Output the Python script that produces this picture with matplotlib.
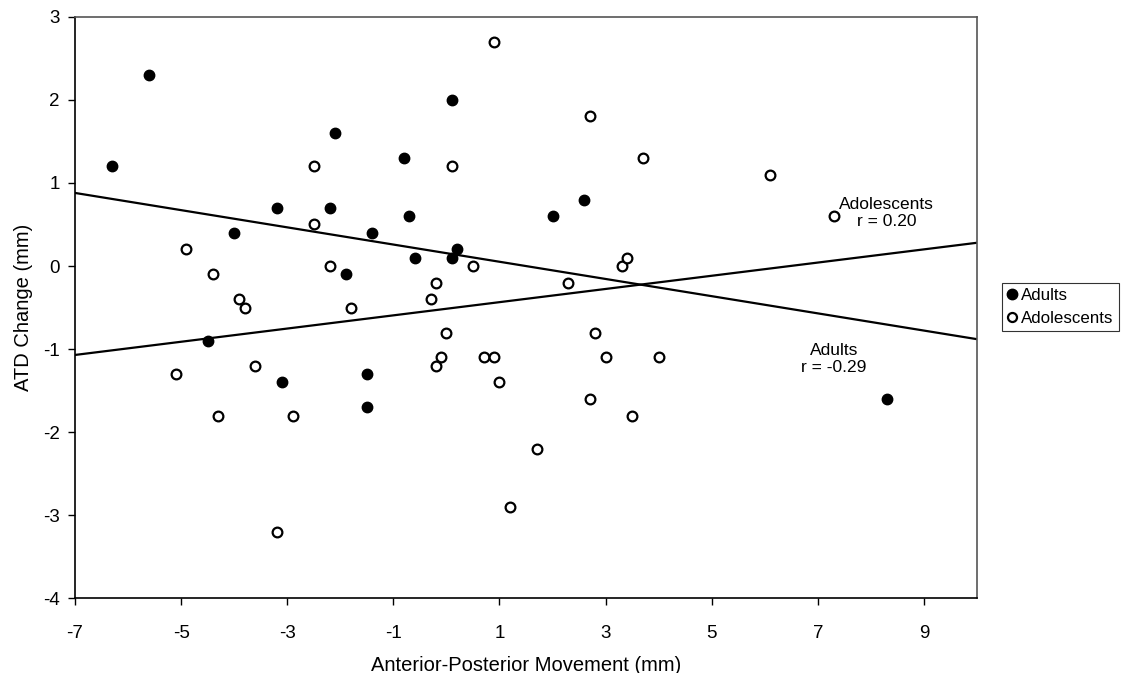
import numpy as np
import matplotlib
matplotlib.use("Agg")
import matplotlib.pyplot as plt
from matplotlib.lines import Line2D

plt.rcParams['font.family'] = ['Liberation Sans', 'DejaVu Sans']
plt.rcParams['axes.unicode_minus'] = False

# adults (filled)
adult_x = [-6.3, -5.6, -4.5, -4.0, -3.2, -3.1, -2.2, -2.1, -1.9, -1.5, -1.5,
           -1.4, -0.8, -0.7, -0.6, 0.1, 0.1, 0.2, 2.0, 2.6, 8.3]
adult_y = [1.2, 2.3, -0.9, 0.4, 0.7, -1.4, 0.7, 1.6, -0.1, -1.3, -1.7,
           0.4, 1.3, 0.6, 0.1, 2.0, 0.1, 0.2, 0.6, 0.8, -1.6]

# adolescents (open)
adol_x = [-5.1, -4.9, -4.4, -4.3, -3.9, -3.8, -3.6, -3.2, -2.9, -2.5, -2.5,
          -2.2, -1.8, -0.3, -0.2, -0.2, -0.1, 0.0, 0.1, 0.5, 0.7, 0.9, 0.9,
          1.0, 1.2, 1.7, 2.3, 2.7, 2.7, 2.8, 3.0, 3.3, 3.4, 3.5, 3.7, 4.0,
          6.1, 7.3]
adol_y = [-1.3, 0.2, -0.1, -1.8, -0.4, -0.5, -1.2, -3.2, -1.8, 1.2, 0.5,
          0.0, -0.5, -0.4, -0.2, -1.2, -1.1, -0.8, 1.2, 0.0, -1.1, 2.7, -1.1,
          -1.4, -2.9, -2.2, -0.2, 1.8, -1.6, -0.8, -1.1, 0.0, 0.1, -1.8, 1.3, -1.1,
          1.1, 0.6]

# trend lines (slope, intercept)
adult_fit = (-0.1035, 0.155)
adol_fit = (0.0794, -0.514)

xticks = [-7, -5, -3, -1, 1, 3, 5, 7, 9]
yticks = [-4, -3, -2, -1, 0, 1, 2, 3]

fig = plt.figure(figsize=(11.23, 6.73), dpi=100)
ax = fig.add_axes([0.0668, 0.1107, 0.8032, 0.8645])

xl = np.array([-7, 10])
ax.plot(xl, adult_fit[0] * xl + adult_fit[1], color='black', lw=1.6, zorder=2)
ax.plot(xl, adol_fit[0] * xl + adol_fit[1], color='black', lw=1.6, zorder=2)

ax.plot(adult_x, adult_y, 'o', ms=7.5, mfc='black', mec='black', zorder=3)
ax.plot(adol_x, adol_y, 'o', ms=7, mfc='white', mec='black', mew=1.6, zorder=3)

ax.text(8.3, 0.64, "Adolescents\nr = 0.20", ha='center', va='center',
        fontsize=12.5, linespacing=1.2)
ax.text(7.3, -1.12, "Adults\nr = -0.29", ha='center', va='center',
        fontsize=12.5, linespacing=1.2)

ax.set_xlim(-7, 10)
ax.set_ylim(-4, 3)
ax.set_xticks(xticks)
ax.set_yticks(yticks)
ax.tick_params(axis='both', direction='out', length=5, width=1, labelsize=13.5)
ax.tick_params(axis='x', pad=14)
ax.tick_params(axis='y', pad=6)
for s in ax.spines.values():
    s.set_linewidth(1.2)
ax.spines['top'].set_color('#555555')
ax.spines['right'].set_color('#555555')

ax.set_xlabel("Anterior-Posterior Movement (mm)", fontsize=14.5, labelpad=10)
ax.set_ylabel("ATD Change (mm)", fontsize=14.5, labelpad=7)

handles = [
    Line2D([], [], ls='none', marker='o', ms=7.5, mfc='black', mec='black'),
    Line2D([], [], ls='none', marker='o', ms=6.5, mfc='white', mec='black', mew=1.6),
]
leg = fig.legend(handles, ["Adults", "Adolescents"], loc='center left',
                 bbox_to_anchor=(0.892, 0.544), fontsize=12.2, frameon=True,
                 fancybox=False, edgecolor='black', handlelength=0.6,
                 handletextpad=0.25, borderpad=0.3, labelspacing=0.5,
                 borderaxespad=0)
leg.get_frame().set_linewidth(0.8)

fig.savefig("out.png", dpi=100)
